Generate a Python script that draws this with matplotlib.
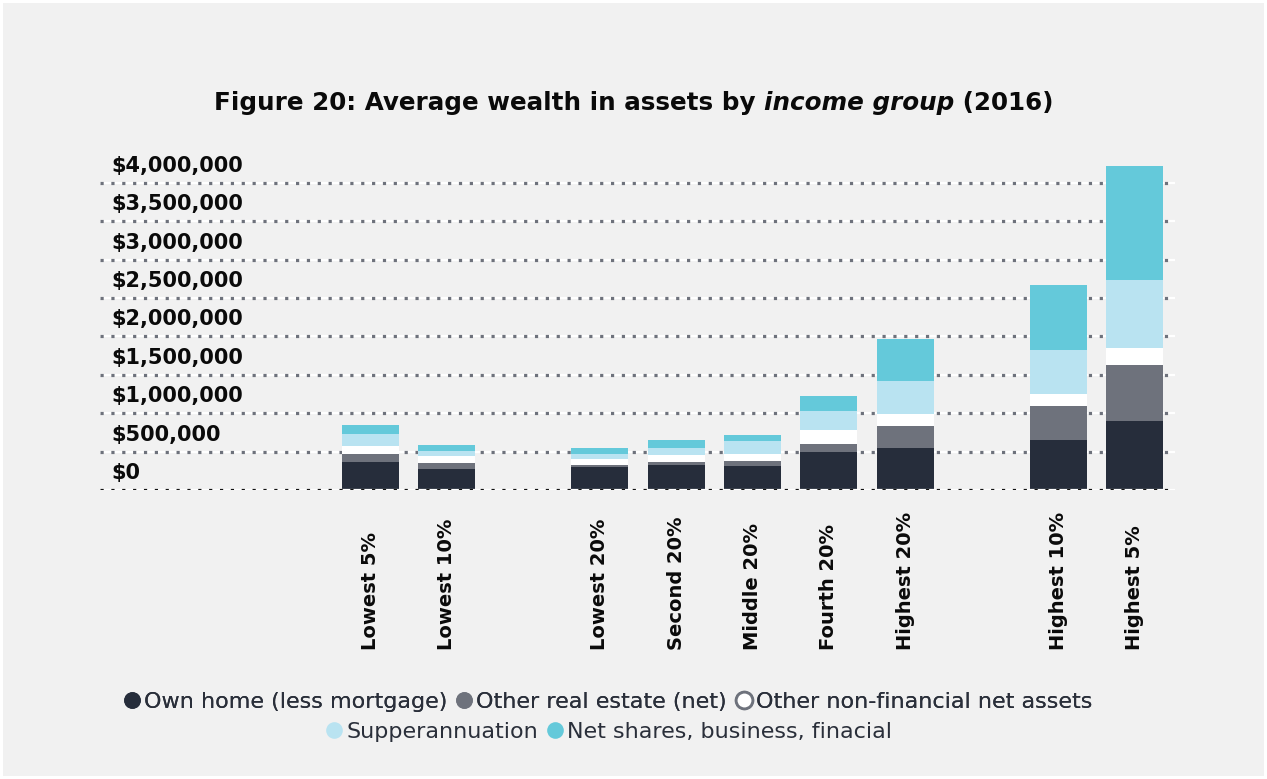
import matplotlib
matplotlib.use("Agg")
import matplotlib.pyplot as plt
from matplotlib.lines import Line2D
from matplotlib.patches import Rectangle

# ---------------------- data ----------------------
groups = ["Lowest 5%", "Lowest 10%", "Lowest 20%", "Second 20%", "Middle 20%",
          "Fourth 20%", "Highest 20%", "Highest 10%", "Highest 5%"]
slots = [0, 1, 3, 4, 5, 6, 7, 9, 10]  # gaps between the three groupings

own_home = [365000, 273000, 300000, 326000, 313000, 495000, 547000, 651000, 898000]
other_real_estate = [104000, 78000, 26000, 39000, 65000, 104000, 286000, 443000, 729000]
other_non_financial = [104000, 91000, 78000, 91000, 91000, 182000, 156000, 156000, 221000]
superannuation = [156000, 65000, 65000, 91000, 169000, 247000, 430000, 573000, 885000]
net_shares = [117000, 78000, 78000, 104000, 78000, 195000, 547000, 846000, 1484000]

series_names = ["Own home (less mortgage)", "Other real estate (net)",
                "Other non-financial net assets", "Supperannuation",
                "Net shares, business, finacial"]
series_colors = ["#262d3b", "#6e727c", "#ffffff", "#b9e3f1", "#64c9da"]

yticks = [0, 500000, 1000000, 1500000, 2000000, 2500000, 3000000, 3500000, 4000000]
ytick_labels = ["$0", "$500,000", "$1,000,000", "$1,500,000", "$2,000,000",
                "$2,500,000", "$3,000,000", "$3,500,000", "$4,000,000"]

# ---------------------- figure ----------------------
W, H = 1267, 779
fig = plt.figure(figsize=(W / 100, H / 100), dpi=100, facecolor="white")
fig.patches.append(Rectangle((3 / W, 3 / H), 1 - 6 / W, 1 - 6 / H, transform=fig.transFigure,
                             facecolor="#f1f1f1", edgecolor="none", zorder=-10))

ax = fig.add_axes([100 / W, 1 - 490 / H, 1075 / W, 338 / H])
ax.set_xlim(-3.54, 10.53)
ax.set_ylim(0, 4400000)
ax.set_axis_off()

# stacked bars
bottom = [0] * len(slots)
for vals, name, c in zip([own_home, other_real_estate, other_non_financial, superannuation, net_shares],
                         series_names, series_colors):
    ax.bar(slots, vals, width=0.746, bottom=bottom, color=c, linewidth=0, zorder=3)
    bottom = [b + v for b, v in zip(bottom, vals)]

# dotted gridlines (white strip under the dots)
for y in yticks:
    dot_col = "#111111" if y == 0 else "#6e727c"
    z = 4 if y == 0 else 1
    ax.axhline(y, color="white", lw=1.6, zorder=z)
    ax.axhline(y, color=dot_col, lw=2.3, ls=(0, (1, 2.4)), zorder=z + 0.1)

# y labels sit above their gridline
for y, lbl in zip(yticks, ytick_labels):
    ax.annotate(lbl, xy=(0, y), xycoords=("axes fraction", "data"), xytext=(11, 11),
                textcoords="offset pixels", ha="left", va="baseline",
                fontsize=15, fontweight="bold", color="#0a0a0a")

# category labels
for s, g in zip(slots, groups):
    ax.annotate(g, xy=(s, 0), xycoords=("data", "axes fraction"), xytext=(0, -160),
                textcoords="offset pixels", rotation=90, ha="center", va="bottom",
                fontsize=14, fontweight="bold", color="#0a0a0a")

# title with italic part
fig.canvas.draw()
r = fig.canvas.get_renderer()
parts = [("Figure 20: Average wealth in assets by\u00a0", "normal"),
         ("income group", "italic"), ("\u00a0(2016)", "normal")]
texts = [fig.text(0, 1 - 110 / H, s, fontsize=17.7, fontweight="bold", style=st,
                  va="baseline", color="#0a0a0a") for s, st in parts]
widths = [t.get_window_extent(r).width for t in texts]
x = (W - sum(widths)) / 2
for t, w in zip(texts, widths):
    t.set_x(x / W)
    x += w

# legend, two centred rows
handles = []
for name, c in zip(series_names, series_colors):
    edge = "#6e727c" if c == "#ffffff" else c
    handles.append(Line2D([], [], linestyle="none", marker="o", markersize=12,
                          markerfacecolor=c, markeredgecolor=edge, markeredgewidth=2 if c == "#ffffff" else 0,
                          label=name))
leg_kw = dict(loc="center", frameon=False, handletextpad=0.1, columnspacing=0.3,
              handlelength=0.9, fontsize=16, labelcolor="#2a2f3a", borderpad=0)
leg1 = fig.legend(handles=handles[:3], ncol=3, bbox_to_anchor=(607 / W, 1 - 702 / H), **leg_kw)
fig.add_artist(leg1)
fig.legend(handles=handles[3:], ncol=2, bbox_to_anchor=(608 / W, 1 - 732 / H), **leg_kw)

fig.savefig("out.png", dpi=100, facecolor=fig.get_facecolor())
